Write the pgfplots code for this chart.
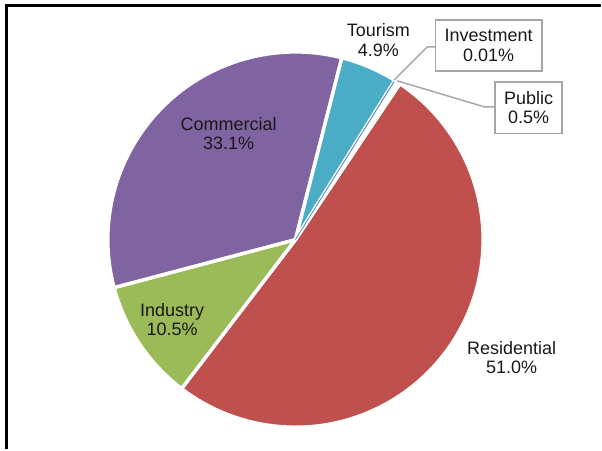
\documentclass[border=0pt]{standalone}
\usepackage{pgfplots}
\pgfplotsset{compat=1.18}
\usepackage{pgfplotstable}
\usepackage{fontspec}
\setmainfont{Liberation Sans}

\definecolor{resid}{HTML}{C0504D}
\definecolor{indus}{HTML}{9BBB59}
\definecolor{comm}{HTML}{8064A2}
\definecolor{tour}{HTML}{4BACC6}
\definecolor{invest}{HTML}{4F81BD}
\definecolor{public}{HTML}{FFFFFF}
\definecolor{boxgray}{HTML}{A6A6A6}

% share of each sector (percent), clockwise from the start angle
\pgfplotstableread{
label value color
Residential 51.0 resid
Industry 10.5 indus
Commercial 33.1 comm
Tourism 4.9 tour
Investment 0.01 invest
Public 0.5 public
}\piedata

\newcommand\pieStart{56.2}
\newcommand\pieTotal{100.01}
\xdef\cumangle{\pieStart}
\foreach \i in {0,...,5}{%
  \pgfplotstablegetelem{\i}{value}\of\piedata
  \pgfmathsetmacro\ang{\pgfplotsretval/\pieTotal*360}%
  \pgfmathsetmacro\newangle{\cumangle-\ang}%
  \expandafter\xdef\csname sA\i\endcsname{\newangle}%
  \expandafter\xdef\csname eA\i\endcsname{\cumangle}%
  \xdef\cumangle{\newangle}%
  \pgfplotstablegetelem{\i}{color}\of\piedata
  \expandafter\xdef\csname col\i\endcsname{\pgfplotsretval}%
}

\tikzset{lbl/.style={align=center, font=\fontsize{13.5}{14.6}\selectfont, text=black!90}}

\begin{document}
\begin{tikzpicture}
\begin{axis}[
  x=0.75pt, y=0.75pt,
  xmin=0, xmax=602, ymin=0, ymax=450,
  hide axis, clip=false,
]
\path (0,0) rectangle (602,450);
% slices
\pgfplotsinvokeforeach{0,1,2,3,5}{%
  \edef\temp{\noexpand\addplot[draw=white, line width=2.6pt, line join=round,
     fill=\csname col#1\endcsname, domain=\csname sA#1\endcsname:\csname eA#1\endcsname,
     samples=90] ({296+188*cos(x)},{210+188*sin(x)}) -- (296,210) -- cycle;}%
  \temp
}
\edef\temp{\noexpand\addplot[draw=invest, line width=0.5pt, fill=invest,
   domain=\csname sA4\endcsname:\csname eA4\endcsname, samples=2]
   ({296+186*cos(x)},{210+186*sin(x)}) -- (296,210) -- cycle;}
\temp

% leader lines
\addplot[boxgray, line width=1.1pt, no markers] coordinates {(436,403) (428,403) (395,370)};
\addplot[boxgray, line width=1.1pt, no markers] coordinates {(496,343) (485,343) (398,369)};

% labels
\node[lbl] at (379,410) {Tourism\\4.9\%};
\node[lbl] at (229,316) {Commercial\\33.1\%};
\node[lbl] at (172.5,130) {Industry\\10.5\%};
\node[lbl] at (512.5,92) {Residential\\51.0\%};
\node[lbl, draw=boxgray, line width=1.1pt, fill=white, inner sep=0pt,
      minimum width=80.25pt, minimum height=38.25pt] at (489.5,404.5) {Investment\\0.01\%};
\node[lbl, draw=boxgray, line width=1.1pt, fill=white, inner sep=0pt,
      minimum width=50.25pt, minimum height=39pt] at (529.5,342) {Public\\0.5\%};

% frame
\draw[black, line width=1.6pt] (6.5,0) -- (6.5,444.5) -- (602,444.5);
\end{axis}
\end{tikzpicture}
\end{document}
